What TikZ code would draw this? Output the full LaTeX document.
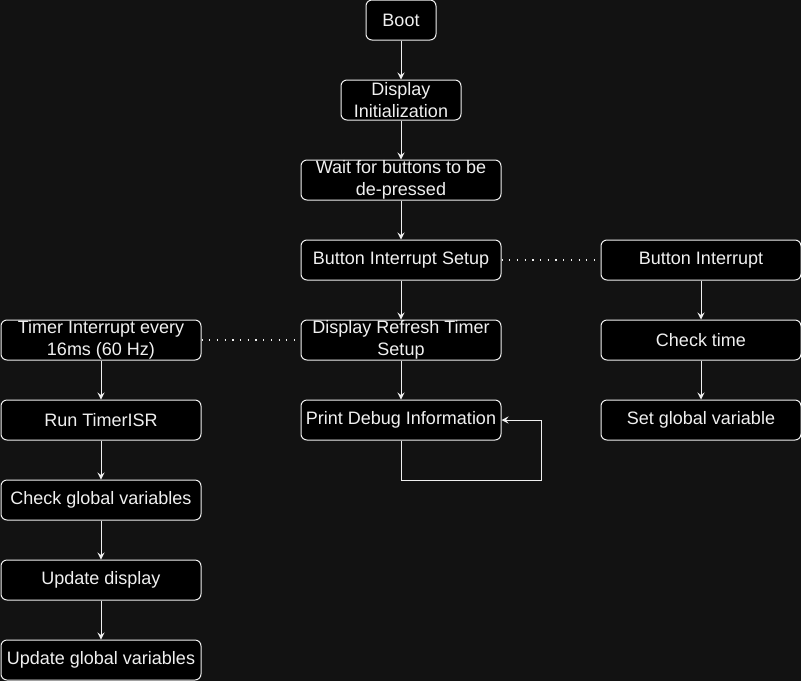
\documentclass[tikz,border=0pt]{standalone}
\usepackage{fontspec}
\setmainfont{Liberation Sans}
\usetikzlibrary{arrows.meta}
\definecolor{bg}{RGB}{18,18,18}
\definecolor{fg}{RGB}{240,240,240}
\begin{document}
\begin{tikzpicture}[x=1pt,y=-1pt,
  box/.style={draw=fg, fill=black, rounded corners=6pt, line width=1pt, text=fg,
    minimum height=40pt, minimum width=200pt, inner sep=0pt, align=center,
    font=\fontsize{18}{21.6}\selectfont},
  flow/.style={draw=fg, line width=1pt, -{Stealth[length=7pt,width=7pt,inset=2.5pt]}},
  link/.style={draw=fg, line width=1.2pt, dash pattern=on 1.2pt off 6.5pt}]
\fill[bg] (0,0) rectangle (801,681);
\useasboundingbox (0,0) rectangle (801,681);
% centre column
\node[box, minimum width=70pt] (boot) at (401,20) {Boot};
\node[box, minimum width=120pt] (dinit) at (401,100) {Display\\Initialization};
\node[box] (wait) at (401,180) {Wait for buttons to be\\de-pressed};
\node[box] (bis) at (401,260) {Button Interrupt Setup};
\node[box] (drts) at (401,340) {Display Refresh Timer\\Setup};
\node[box] (debug) at (401,420) {Print Debug Information};
% right column
\node[box] (bi) at (701,260) {Button Interrupt};
\node[box] (ct) at (701,340) {Check time};
\node[box] (sgv) at (701,420) {Set global variable};
% left column
\node[box] (ti) at (101,340) {Timer Interrupt every\\16ms (60 Hz)};
\node[box] (isr) at (101,420) {Run TimerISR};
\node[box] (cgv) at (101,500) {Check global variables};
\node[box] (ud) at (101,580) {Update display};
\node[box] (ugv) at (101,660) {Update global variables};
% connectors
\draw[flow] (boot) -- (dinit);
\draw[flow] (dinit) -- (wait);
\draw[flow] (wait) -- (bis);
\draw[flow] (bis) -- (drts);
\draw[flow] (drts) -- (debug);
\draw[flow] (debug.south) -- ++(0,40) -- ++(140,0) |- (debug.east);
\draw[flow] (bi) -- (ct);
\draw[flow] (ct) -- (sgv);
\draw[flow] (ti) -- (isr);
\draw[flow] (isr) -- (cgv);
\draw[flow] (cgv) -- (ud);
\draw[flow] (ud) -- (ugv);
\draw[link] (bis.east) -- (bi.west);
\draw[link] (ti.east) -- (drts.west);
\end{tikzpicture}
\end{document}
